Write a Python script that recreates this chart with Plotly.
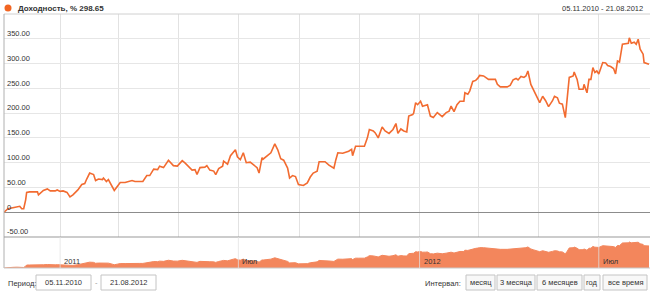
import pandas as pd
import plotly.graph_objects as go

# ---------------- data ----------------
start_date = "2010-11-05"
end_date = "2012-08-21"
day_offsets = [0,4,9,13,16,18,20,22,23,26,
               34,35,40,44,47,52,54,57,60,64,
               67,70,75,79,82,84,87,91,93,96,
               100,101,104,106,110,112,115,118,123,126,
               130,133,138,141,145,148,152,156,158,162,
               167,172,176,181,184,187,191,194,196,199,
               204,206,209,213,215,218,222,223,227,230,
               233,235,237,240,243,246,250,253,257,259,
               262,263,267,271,275,278,281,284,288,290,
               293,296,299,304,308,311,314,318,320,326,
               330,335,337,339,344,347,350,353,354,357,
               360,366,369,371,375,377,380,384,387,391,
               395,398,400,403,406,409,411,415,416,418,
               420,423,425,428,430,433,436,440,443,445,
               449,452,454,457,460,463,467,468,471,473,
               476,479,481,483,487,492,499,501,504,511,
               514,517,520,522,525,528,530,532,535,538,
               542,544,547,550,553,557,559,562,564,567,
               570,572,574,578,579,582,584,588,589,592,
               594,596,598,600,602,604,608,611,613,616,
               619,621,623,625,628,634,635,637,640,642,
               644,646,649,650,654,655]
yield_values = [0,7,9,11,12,7,7,25,40,41,
                41,35,44,47,43,43,45,42,43,40,
                31,35,45,56,58,67,79,76,64,67,
                66,69,62,66,52,44,52,60,60,62,
                64,62,62,62,74,74,87,86,93,90,
                105,94,93,104,99,93,85,86,76,90,
                91,94,85,83,76,88,93,103,97,114,
                120,126,112,106,120,100,101,97,90,79,
                110,107,114,120,138,126,108,105,89,69,
                74,72,56,54,59,71,79,83,102,102,
                95,89,106,120,119,121,123,127,114,133,
                133,133,150,167,164,160,150,172,164,159,
                167,179,159,168,164,162,194,197,200,221,
                217,224,214,215,217,194,191,201,197,193,
                201,204,214,203,217,224,224,241,238,245,
                264,266,270,276,275,268,268,258,253,253,
                256,267,270,267,274,272,275,285,258,245,
                231,221,234,225,213,225,234,231,220,218,
                191,228,272,275,283,268,248,248,258,241,
                268,268,292,282,285,279,302,301,296,294,
                290,279,305,303,339,341,352,341,343,339,
                349,329,319,302,299,298.65]
y_tick_values = [-50, 0, 50, 100, 150, 200, 250, 300, 350]
y_tick_labels = ["-50.00", "0", "50.00", "100.00", "150.00", "200.00", "250.00", "300.00", "350.00"]
nav_tick_dates = ["2011-01-01", "2011-07-01", "2012-01-01", "2012-07-01"]
nav_tick_labels = ["2011", "Июл", "2012", "Июл"]
series_name = "Доходность, %"
last_value = "298.65"
interval_buttons = ["месяц", "3 месяца", "6 месяцев", "год", "все время"]

dates = pd.Timestamp(start_date) + pd.to_timedelta(day_offsets, unit="D")

W, H = 650, 295
def px(x):
    return x / W
def py(y):
    return 1 - y / H

FONT = "Liberation Sans, Arial, sans-serif"
LINE = "#F26B30"
FILL = "#F3865C"
TXT = "#333333"

fig = go.Figure()
fig.add_trace(go.Scatter(x=dates, y=yield_values, mode="lines",
                         line=dict(color=LINE, width=1.6), xaxis="x", yaxis="y",
                         hoverinfo="skip", showlegend=False))
fig.add_trace(go.Scatter(x=dates, y=yield_values, mode="lines", fill="tozeroy",
                         line=dict(color=FILL, width=1), fillcolor=FILL,
                         xaxis="x2", yaxis="y2", hoverinfo="skip", showlegend=False))

main_dom = [py(237), py(14)]
nav_dom = [py(268), py(237)]
x_dom = [px(4), 1]
x_range = [start_date, "2012-08-22"]

shapes = []
# borders
shapes.append(dict(type="line", xref="paper", yref="paper", x0=px(4), x1=1, y0=py(14), y1=py(14),
                   line=dict(color="#d0d0d0", width=1)))
shapes.append(dict(type="line", xref="paper", yref="paper", x0=px(4), x1=px(4), y0=py(268), y1=py(14),
                   line=dict(color="#b0b0b0", width=1)))
shapes.append(dict(type="line", xref="paper", yref="paper", x0=px(4), x1=1, y0=py(237), y1=py(237),
                   line=dict(color="#999999", width=1)))
shapes.append(dict(type="line", xref="paper", yref="paper", x0=px(4), x1=1, y0=py(268), y1=py(268),
                   line=dict(color="#c8c8c8", width=1)))
for d in nav_tick_dates:
    shapes.append(dict(type="line", xref="x2", yref="y2 domain", x0=d, x1=d, y0=0, y1=1,
                       layer="above", line=dict(color="rgba(225,225,225,0.75)", width=1)))
# header dot
shapes.append(dict(type="circle", xref="paper", yref="paper", x0=px(4.5), x1=px(11.5),
                   y0=py(11.5), y1=py(4.5), fillcolor="#F26522", line=dict(width=0)))

annotations = []
annotations.append(dict(xref="paper", yref="paper", x=px(16), y=py(8), xanchor="left", yanchor="middle",
                        text="<b>" + series_name + " " + last_value + "</b>", showarrow=False,
                        font=dict(family=FONT, size=8, color=TXT)))
annotations.append(dict(xref="paper", yref="paper", x=px(645), y=py(8), xanchor="right", yanchor="middle",
                        text=start_date[8:10] + "." + start_date[5:7] + "." + start_date[0:4] + " - " +
                        end_date[8:10] + "." + end_date[5:7] + "." + end_date[0:4],
                        showarrow=False, font=dict(family=FONT, size=7.5, color=TXT)))
for d, t in zip(nav_tick_dates, nav_tick_labels):
    annotations.append(dict(xref="x2", yref="y2 domain", x=d, y=0, xanchor="left", yanchor="bottom",
                            xshift=2, yshift=0, text=t, showarrow=False,
                            font=dict(family=FONT, size=7.5, color=TXT)))

# bottom controls
annotations.append(dict(xref="paper", yref="paper", x=px(6), y=py(283), xanchor="left", yanchor="middle",
                        text="Период:", showarrow=False, font=dict(family=FONT, size=7.5, color=TXT)))
boxes = [(36, 91, start_date), (101, 156, end_date)]
for x0, x1, dt in boxes:
    shapes.append(dict(type="rect", xref="paper", yref="paper", x0=px(x0), x1=px(x1), y0=py(290), y1=py(275),
                       fillcolor="white", line=dict(color="#c4c4c4", width=1)))
    annotations.append(dict(xref="paper", yref="paper", x=px((x0 + x1) / 2), y=py(282.5), xanchor="center",
                            yanchor="middle", text=dt[8:10] + "." + dt[5:7] + "." + dt[0:4], showarrow=False,
                            font=dict(family=FONT, size=7.5, color=TXT)))
annotations.append(dict(xref="paper", yref="paper", x=px(96), y=py(282.5), xanchor="center", yanchor="middle",
                        text="-", showarrow=False, font=dict(family=FONT, size=7.5, color="#999")))
annotations.append(dict(xref="paper", yref="paper", x=px(463), y=py(283), xanchor="right", yanchor="middle",
                        text="Интервал:", showarrow=False, font=dict(family=FONT, size=7.5, color=TXT)))
btn_edges = [(466, 495), (497, 535), (537, 582), (584, 600), (603, 647)]
for (x0, x1), t in zip(btn_edges, interval_buttons):
    shapes.append(dict(type="rect", xref="paper", yref="paper", x0=px(x0), x1=px(x1), y0=py(290), y1=py(275),
                       fillcolor="#f8f8f8", line=dict(color="#c4c4c4", width=1)))
    annotations.append(dict(xref="paper", yref="paper", x=px((x0 + x1) / 2), y=py(282.5), xanchor="center",
                            yanchor="middle", text=t, showarrow=False,
                            font=dict(family=FONT, size=7.5, color=TXT)))

fig.update_layout(
    width=W, height=H, margin=dict(l=0, r=0, t=0, b=0),
    paper_bgcolor="white", plot_bgcolor="white",
    font=dict(family=FONT, size=7.5, color=TXT),
    xaxis=dict(domain=x_dom, range=x_range, type="date", anchor="y",
               showticklabels=False, ticks="", showgrid=True, gridcolor="#e2e2e2", gridwidth=1,
               dtick="M2", tick0="2011-01-01", zeroline=False, showline=False, fixedrange=True),
    yaxis=dict(domain=main_dom, range=[-50, 400], anchor="x",
               tickvals=y_tick_values, ticktext=y_tick_labels, ticklabelposition="inside top",
               ticks="", showgrid=True, gridcolor="#e6e6e6", gridwidth=1,
               zeroline=True, zerolinecolor="#8c8c8c", zerolinewidth=1, showline=False,
               tickfont=dict(family=FONT, size=7.5, color=TXT), fixedrange=True),
    xaxis2=dict(domain=x_dom, range=x_range, type="date", anchor="y2",
                showticklabels=False, ticks="", showgrid=False, zeroline=False, showline=False,
                fixedrange=True),
    yaxis2=dict(domain=nav_dom, range=[0, 420], anchor="x2", showticklabels=False, ticks="",
                showgrid=False, zeroline=False, showline=False, fixedrange=True),
    shapes=shapes, annotations=annotations, showlegend=False,
)

fig.write_html("out.html", config=dict(displayModeBar=False))
